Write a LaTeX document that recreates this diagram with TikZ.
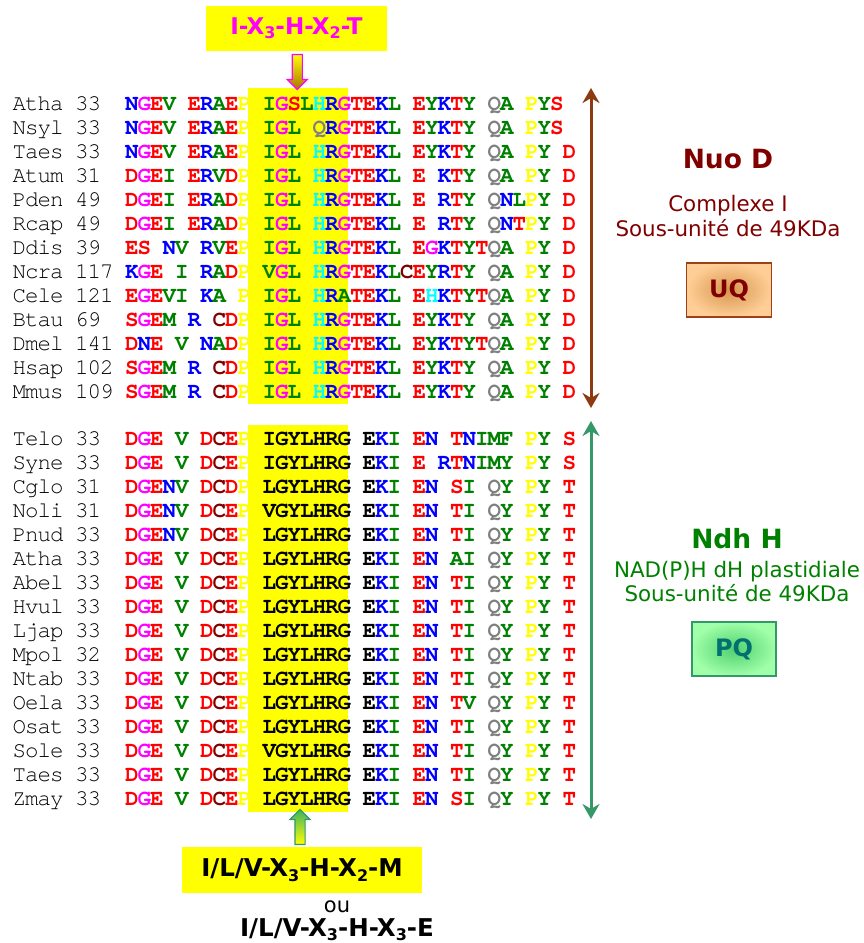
\documentclass[tikz,border=0pt]{standalone}
\usepackage{fontspec}
\setmainfont{DejaVu Sans}
\setmonofont{texgyrecursor}[Extension=.otf, UprightFont=*-regular, BoldFont=*-bold]
\usepackage{xcolor}
\usetikzlibrary{arrows.meta,positioning,shapes.arrows,calc}

\definecolor{aared}{RGB}{255,0,0}
\definecolor{aablue}{RGB}{0,0,255}
\definecolor{aagreen}{RGB}{0,128,0}
\definecolor{aamag}{RGB}{255,0,255}
\definecolor{aacyan}{RGB}{0,255,255}
\definecolor{aayel}{RGB}{255,255,0}
\definecolor{aagray}{RGB}{128,128,128}
\definecolor{aacys}{RGB}{128,0,0}
\definecolor{nuored}{RGB}{128,0,0}
\definecolor{nuoarrow}{RGB}{140,58,18}
\definecolor{ndhgreen}{RGB}{0,128,0}
\definecolor{ndharrow}{RGB}{52,152,104}
\definecolor{pqteal}{RGB}{0,112,112}

% residue -> coloured glyph (lower case = black)
\newcommand\resdef[2]{\expandafter\def\csname res#1\endcsname{\textcolor{#2}{#1}}}
\newcommand\resblk[2]{\expandafter\def\csname res#1\endcsname{#2}}
\resdef{D}{aared}\resdef{E}{aared}\resdef{S}{aared}\resdef{T}{aared}
\resdef{K}{aablue}\resdef{R}{aablue}\resdef{N}{aablue}
\resdef{A}{aagreen}\resdef{V}{aagreen}\resdef{I}{aagreen}\resdef{L}{aagreen}
\resdef{M}{aagreen}\resdef{Y}{aagreen}\resdef{F}{aagreen}
\resdef{G}{aamag}\resdef{H}{aacyan}\resdef{P}{aayel}
\resdef{Q}{aagray}\resdef{C}{aacys}
\resblk{.}{}
\resblk{i}{I}\resblk{l}{L}\resblk{v}{V}\resblk{g}{G}
\resblk{y}{Y}\resblk{h}{H}\resblk{r}{R}\resblk{e}{E}
\def\seqloop#1{\ifx\relax#1\else\makebox[12.5pt]{\csname res#1\endcsname}\expandafter\seqloop\fi}
\def\labloop#1{\ifx\relax#1\else\makebox[12.5pt]{\if.#1\else#1\fi}\expandafter\labloop\fi}
\newcommand\alnrow[2]{\makebox[112.5pt][l]{\mdseries\labloop#1\relax}\seqloop#2\relax}
\newcommand\alnfont{\ttfamily\bfseries\fontsize{22.5}{24}\selectfont}
\newcommand\lsub[1]{\raisebox{-0.18em}{\fontsize{16}{16}\selectfont #1}}

\begin{document}
\begin{tikzpicture}[
        x=1pt, y=-1pt,
        aln/.style={anchor=base west, inner sep=0pt, font=\alnfont},
        hilite/.style={fill=aayel, inner sep=0pt, minimum width=100pt},
        motif/.style={
            fill=aayel,
            inner sep=0pt,
            font=\bfseries\fontsize{24.5}{28}\selectfont
        },
        span/.style={
            {Stealth[length=15pt,width=17pt]}-{Stealth[length=15pt,width=17pt]},
            line width=3pt
        },
        blockarrow/.style={
            single arrow,
            inner sep=4.5pt,
            minimum height=35pt,
            single arrow head extend=5pt,
            line width=1.2pt
        },
        title/.style={anchor=base, inner sep=0pt, font=\bfseries\fontsize{26.5}{30}\selectfont},
        subtitle/.style={anchor=base, inner sep=0pt, font=\fontsize{21.4}{26}\selectfont},
        carrier/.style={
            line width=1.5pt,
            minimum width=85pt,
            minimum height=54pt,
            shading=radial,
            font=\bfseries\fontsize{24}{28}\selectfont
        }
    ]
    \useasboundingbox (0,0) rectangle (863,943);

    % highlighted motif columns
    \node[hilite, minimum height=316pt] (hlnuo) at (298,246) {};
    \node[hilite, minimum height=387pt] (hlndh) at (298,618.5) {};

    % Nuo D sequences
    \node[aln] (a1) at (13,110) {\alnrow{Atha.33}{NGEV.ERAEP.IGSLHRGTEKL.EYKTY.QA.PYS}};
    \node[aln] (a2) at (13,134) {\alnrow{Nsyl.33}{NGEV.ERAEP.IGL.QRGTEKL.EYKTY.QA.PYS}};
    \node[aln] (a3) at (13,158) {\alnrow{Taes.33}{NGEV.ERAEP.IGL.HRGTEKL.EYKTY.QA.PY.D}};
    \node[aln] (a4) at (13,182) {\alnrow{Atum.31}{DGEI.ERVDP.IGL.HRGTEKL.E.KTY.QA.PY.D}};
    \node[aln] (a5) at (13,206) {\alnrow{Pden.49}{DGEI.ERADP.IGL.HRGTEKL.E.RTY.QNLPY.D}};
    \node[aln] (a6) at (13,230) {\alnrow{Rcap.49}{DGEI.ERADP.IGL.HRGTEKL.E.RTY.QNTPY.D}};
    \node[aln] (a7) at (13,254) {\alnrow{Ddis.39}{ES.NV.RVEP.IGL.HRGTEKL.EGKTYTQA.PY.D}};
    \node[aln] (a8) at (13,278) {\alnrow{Ncra.117}{KGE.I.RADP.VGL.HRGTEKLCEYRTY.QA.PY.D}};
    \node[aln] (a9) at (13,302) {\alnrow{Cele.121}{EGEVI.KA.P.IGL.HRATEKL.EHKTYTQA.PY.D}};
    \node[aln] (a10) at (13,326) {\alnrow{Btau.69}{SGEM.R.CDP.IGL.HRGTEKL.EYKTY.QA.PY.D}};
    \node[aln] (a11) at (13,350) {\alnrow{Dmel.141}{DNE.V.NADP.IGL.HRGTEKL.EYKTYTQA.PY.D}};
    \node[aln] (a12) at (13,374) {\alnrow{Hsap.102}{SGEM.R.CDP.IGL.HRGTEKL.EYKTY.QA.PY.D}};
    \node[aln] (a13) at (13,398) {\alnrow{Mmus.109}{SGEM.R.CDP.IGL.HRGTEKL.EYKTY.QA.PY.D}};

    % Ndh H sequences
    \node[aln] (b1) at (13,445) {\alnrow{Telo.33}{DGE.V.DCEP.igylhrg.eKI.EN.TNIMF.PY.S}};
    \node[aln] (b2) at (13,469) {\alnrow{Syne.33}{DGE.V.DCEP.igylhrg.eKI.E.RTNIMY.PY.S}};
    \node[aln] (b3) at (13,493) {\alnrow{Cglo.31}{DGENV.DCDP.lgylhrg.eKI.EN.SI.QY.PY.T}};
    \node[aln] (b4) at (13,517) {\alnrow{Noli.31}{DGENV.DCEP.vgylhrg.eKI.EN.TI.QY.PY.T}};
    \node[aln] (b5) at (13,541) {\alnrow{Pnud.33}{DGENV.DCEP.lgylhrg.eKI.EN.TI.QY.PY.T}};
    \node[aln] (b6) at (13,565) {\alnrow{Atha.33}{DGE.V.DCEP.lgylhrg.eKI.EN.AI.QY.PY.T}};
    \node[aln] (b7) at (13,589) {\alnrow{Abel.33}{DGE.V.DCEP.lgylhrg.eKI.EN.TI.QY.PY.T}};
    \node[aln] (b8) at (13,613) {\alnrow{Hvul.33}{DGE.V.DCEP.lgylhrg.eKI.EN.TI.QY.PY.T}};
    \node[aln] (b9) at (13,637) {\alnrow{Ljap.33}{DGE.V.DCEP.lgylhrg.eKI.EN.TI.QY.PY.T}};
    \node[aln] (b10) at (13,661) {\alnrow{Mpol.32}{DGE.V.DCEP.lgylhrg.eKI.EN.TI.QY.PY.T}};
    \node[aln] (b11) at (13,685) {\alnrow{Ntab.33}{DGE.V.DCEP.lgylhrg.eKI.EN.TI.QY.PY.T}};
    \node[aln] (b12) at (13,709) {\alnrow{Oela.33}{DGE.V.DCEP.lgylhrg.eKI.EN.TV.QY.PY.T}};
    \node[aln] (b13) at (13,733) {\alnrow{Osat.33}{DGE.V.DCEP.lgylhrg.eKI.EN.TI.QY.PY.T}};
    \node[aln] (b14) at (13,757) {\alnrow{Sole.33}{DGE.V.DCEP.vgylhrg.eKI.EN.TI.QY.PY.T}};
    \node[aln] (b15) at (13,781) {\alnrow{Taes.33}{DGE.V.DCEP.lgylhrg.eKI.EN.TI.QY.PY.T}};
    \node[aln] (b16) at (13,805) {\alnrow{Zmay.33}{DGE.V.DCEP.lgylhrg.eKI.EN.SI.QY.PY.T}};

    % motifs
    \node[motif, text=aamag, minimum width=181pt, minimum height=45pt,
          font=\bfseries\fontsize{23}{27}\selectfont] (motifT) at (296.5,28.5)
        {I-X\lsub{3}-H-X\lsub{2}-T};
    \node[motif, minimum width=240pt, minimum height=46pt] (motifB) at (302,870)
        {I/L/V-X\lsub{3}-H-X\lsub{2}-M};
    \node[anchor=base, inner sep=0pt, font=\fontsize{21}{25}\selectfont] (ou) at (337,912) {ou};
    \node[anchor=base, inner sep=0pt, font=\bfseries\fontsize{24.5}{28}\selectfont] (motifE) at (337,936.5)
        {I/L/V-X\lsub{3}-H-X\lsub{3}-E};

    \node[blockarrow, shape border rotate=270, draw=aamag, top color=aayel,
          bottom color={rgb,255:red,170;green,115;blue,0}] (pdown)
        at ($(motifT.south)!0.5!(hlnuo.north)$) {};
    \node[blockarrow, shape border rotate=90, draw=ndharrow, top color={rgb,255:red,60;green,180;blue,100},
          bottom color=aayel] (pup)
        at ($(hlndh.south)!0.5!(motifB.north)$) {};

    % spans
    \coordinate (nuotop) at (591,88);
    \coordinate (nuobot) at (591,408);
    \coordinate (ndhtop) at (591,421);
    \coordinate (ndhbot) at (591,819);
    \draw[span, nuoarrow] (nuotop) -- (nuobot);
    \draw[span, ndharrow] (ndhtop) -- (ndhbot);

    % Nuo D
    \node[title, text=nuored] (nuo) at (728,168.3) {Nuo D};
    \node[subtitle, text=nuored] (nuo1) at (728,211.7) {Complexe I};
    \node[subtitle, text=nuored] (nuo2) at (728,236) {Sous-unité de 49KDa};
    \node[carrier, draw={rgb,255:red,160;green,64;blue,24}, text=nuored,
          inner color={rgb,255:red,214;green,150;blue,80},
          outer color={rgb,255:red,255;green,206;blue,150}] (uq) at (729,290) {UQ};

    % Ndh H
    \node[title, text=ndhgreen] (ndh) at (737,548.3) {Ndh H};
    \node[subtitle, text=ndhgreen] (ndh1) at (737,577.7) {NAD(P)H dH plastidiale};
    \node[subtitle, text=ndhgreen] (ndh2) at (737,601) {Sous-unité de 49KDa};
    \node[carrier, draw=ndharrow, text=pqteal, minimum width=84pt,
          inner color={rgb,255:red,80;green,208;blue,112},
          outer color={rgb,255:red,160;green,255;blue,168}] (pq) at (734,649) {PQ};
\end{tikzpicture}
\end{document}
